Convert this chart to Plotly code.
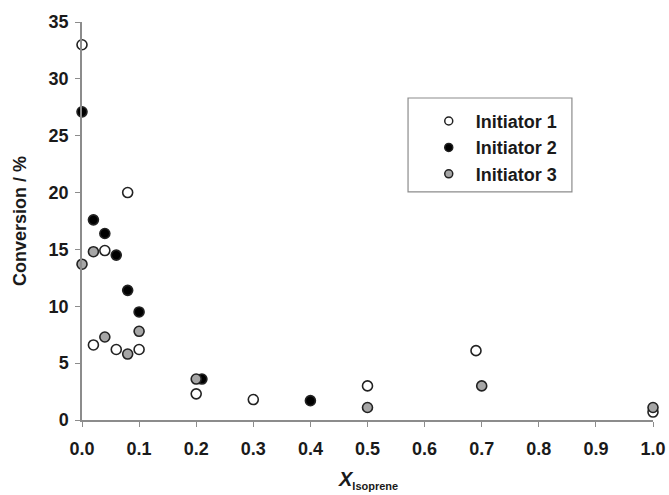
import plotly.graph_objects as go

# Mole fraction of isoprene in the feed and monomer conversion (%)
x_init1 = [0.0, 0.08, 0.04, 0.02, 0.06, 0.10, 0.20, 0.30, 0.50, 0.69, 1.0]
y_init1 = [33.0, 20.0, 14.9, 6.6, 6.2, 6.2, 2.3, 1.8, 3.0, 6.1, 0.7]

x_init2 = [0.0, 0.02, 0.04, 0.06, 0.08, 0.10, 0.21, 0.40]
y_init2 = [27.1, 17.6, 16.4, 14.5, 11.4, 9.5, 3.6, 1.7]

x_init3 = [0.0, 0.02, 0.04, 0.08, 0.10, 0.20, 0.50, 0.70, 1.0]
y_init3 = [13.7, 14.8, 7.3, 5.8, 7.8, 3.6, 1.1, 3.0, 1.1]

x_ticks = [0.0, 0.1, 0.2, 0.3, 0.4, 0.5, 0.6, 0.7, 0.8, 0.9, 1.0]
y_ticks = [0, 5, 10, 15, 20, 25, 30, 35]

FONT = "Liberation Sans, Arial, sans-serif"
INK = "#1a1a1a"
EDGE = "#222222"

fig = go.Figure()

series = [
    ("Initiator 1", x_init1, y_init1, "white"),
    ("Initiator 2", x_init2, y_init2, "black"),
    ("Initiator 3", x_init3, y_init3, "#a6a6a6"),
]
for name, xs, ys, fill in series:
    # data markers
    fig.add_trace(go.Scatter(
        x=xs, y=ys, mode="markers", name=name, showlegend=False,
        marker=dict(size=10, color=fill, line=dict(color=EDGE, width=1.6)),
        cliponaxis=False,
    ))
    # smaller legend key
    fig.add_trace(go.Scatter(
        x=[None], y=[None], mode="markers", name=name,
        marker=dict(size=8, color=fill, line=dict(color=EDGE, width=1.5)),
    ))

axis_common = dict(
    showgrid=False, zeroline=False, showline=True, automargin=False,
    linecolor="#8c8c8c", linewidth=1.5,
    ticks="outside", ticklen=5, tickwidth=1.2, tickcolor="#8c8c8c",
    tickfont=dict(family=FONT, size=18, color=INK, weight="bold"),
)

fig.update_xaxes(
    range=[0, 1.0], tickvals=x_ticks,
    ticktext=[f"{v:.1f}" for v in x_ticks], ticklabelstandoff=7,
    **axis_common,
)
fig.update_yaxes(
    range=[0, 35], tickvals=y_ticks,
    ticktext=[str(v) for v in y_ticks], ticklabelstandoff=3,
    title=dict(text="Conversion / %", standoff=17,
               font=dict(family=FONT, size=18, color=INK, weight="bold")),
    **axis_common,
)

fig.add_annotation(
    x=0.5, y=-0.115, xref="paper", yref="paper", xanchor="center", yanchor="top",
    text="<i>X</i><sub><span style='font-size:11px'>Isoprene</span></sub>",
    showarrow=False,
    font=dict(family=FONT, size=20, color=INK, weight="bold"),
)

# legend frame
fig.add_shape(
    type="rect", xref="paper", yref="paper",
    x0=0.571, x1=0.858, y0=0.573, y1=0.809,
    line=dict(color="#8c8c8c", width=1.2), fillcolor="rgba(0,0,0,0)",
)

fig.update_layout(
    width=669, height=495,
    margin=dict(l=82, r=16, t=22, b=75),
    plot_bgcolor="white", paper_bgcolor="white",
    showlegend=True,
    legend=dict(
        x=0.595, y=0.797, xanchor="left", yanchor="top",
        borderwidth=0, bgcolor="rgba(0,0,0,0)",
        font=dict(family=FONT, size=18, color=INK, weight="bold"),
        itemwidth=44, tracegroupgap=0,
    ),
)

fig.write_html("out.html")
